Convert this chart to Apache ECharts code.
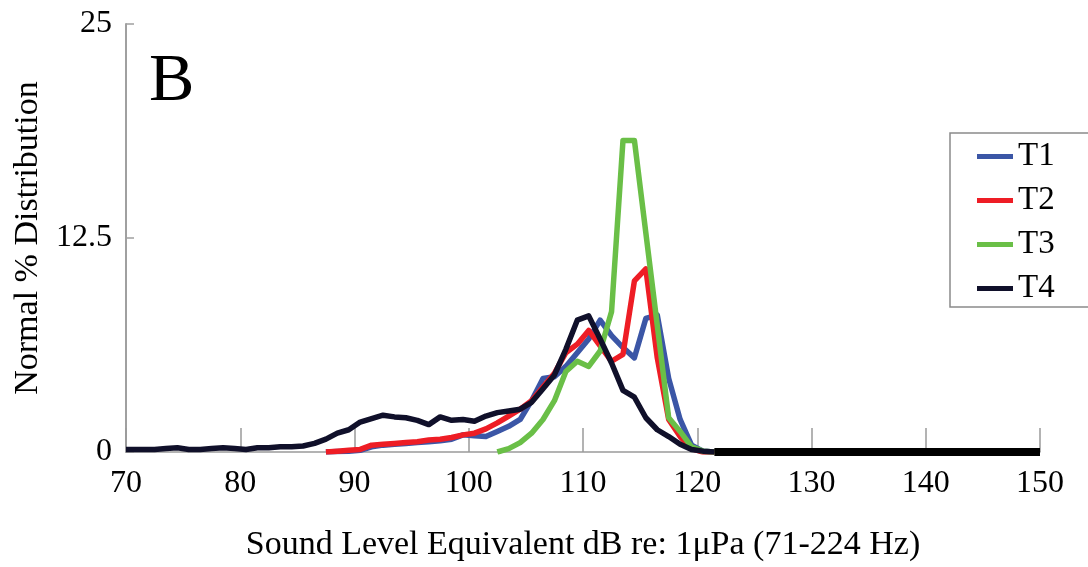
<!DOCTYPE html>
<html>
<head>
<meta charset="utf-8">
<script src="https://cdn.jsdelivr.net/npm/echarts@6/dist/echarts.min.js"></script>
<style>
  html, body { margin: 0; padding: 0; background: #fff; }
  #chart { width: 1088px; height: 567px; }
</style>
</head>
<body>
<div id="chart"></div>
<script>
const seriesNames = ['T1', 'T2', 'T3', 'T4']
const Colors = ['#3b56a6', '#ee1d25', '#6abf47', '#10102a']
const SERIF = '"Liberation Serif", "DejaVu Serif", serif'

const xTicks = [70, 80, 90, 100, 110, 120, 130, 140, 150]
const yTicks = [0, 12.5, 25]

// T1 / T2 share x positions (dB bin centres)
const dbT12 = [87.5, 88.5, 89.5, 90.5, 91.5, 92.5, 93.5, 94.5, 95.5, 96.5, 97.5, 98.5, 99.5,
  100.5, 101.5, 102.5, 103.5, 104.5, 105.5, 106.5, 107.5, 108.5, 109.5, 110.5, 111.5,
  112.5, 113.5, 114.5, 115.5, 116.5, 117.5, 118.5, 119.5, 120.5, 121.5]
const valT1 = [0, 0.03, 0.05, 0.1, 0.3, 0.4, 0.45, 0.5, 0.55, 0.6, 0.65, 0.75, 1.0,
  0.95, 0.9, 1.2, 1.5, 1.9, 3.0, 4.3, 4.4, 5.0, 5.8, 6.6, 7.7,
  6.8, 6.1, 5.5, 7.8, 8.0, 4.3, 1.9, 0.4, 0.05, 0]
const valT2 = [0, 0.05, 0.1, 0.15, 0.4, 0.45, 0.5, 0.55, 0.6, 0.7, 0.75, 0.85, 1.0,
  1.1, 1.35, 1.7, 2.1, 2.5, 3.0, 3.8, 4.6, 5.8, 6.3, 7.1, 6.2,
  5.3, 5.7, 10.0, 10.7, 5.5, 1.9, 0.9, 0.2, 0, 0]

const dbT3 = [102.5, 103.5, 104.5, 105.5, 106.5, 107.5, 108.5, 109.5, 110.5, 111.5,
  112.5, 113.5, 114.5, 115.5, 116.5, 117.5, 118.5, 119.5, 120.5, 121.5]
const valT3 = [0, 0.2, 0.55, 1.1, 1.9, 3.0, 4.7, 5.3, 5.0, 5.9,
  8.2, 18.2, 18.2, 12.8, 7.4, 2.0, 1.2, 0.3, 0.05, 0]

const dbT4 = [70, 71.5, 72.5, 73.5, 74.5, 75.5, 76.5, 77.5, 78.5, 79.5, 80.5, 81.5, 82.5,
  83.5, 84.5, 85.5, 86.5, 87.5, 88.5, 89.5, 90.5, 91.5, 92.5, 93.5, 94.5, 95.5, 96.5,
  97.5, 98.5, 99.5, 100.5, 101.5, 102.5, 103.5, 104.5, 105.5, 106.5, 107.5, 108.5,
  109.5, 110.5, 111.5, 112.5, 113.5, 114.5, 115.5, 116.5, 117.5, 118.5, 119.5, 120.5, 121.5]
const valT4 = [0.15, 0.15, 0.15, 0.2, 0.25, 0.15, 0.15, 0.2, 0.25, 0.2, 0.15, 0.25, 0.25,
  0.3, 0.3, 0.35, 0.5, 0.75, 1.1, 1.3, 1.75, 1.95, 2.15, 2.05, 2.0, 1.85, 1.6,
  2.05, 1.85, 1.9, 1.8, 2.1, 2.3, 2.4, 2.5, 2.9, 3.7, 4.5, 6.0,
  7.7, 7.95, 6.6, 5.2, 3.6, 3.2, 2.0, 1.3, 0.9, 0.45, 0.15, 0.05, 0]

// flat zero stretch above 121.5 dB, drawn heavier in the original
const dbTail = [121.5, 150]
const valTail = [0, 0]

function pairs(xs, ys) {
  return xs.map((x, i) => [x, ys[i]])
}

const chart = echarts.init(document.getElementById('chart'), null, { renderer: 'canvas' })

const lineSeries = (name, data, color, width) => ({
  name: name,
  type: 'line',
  data: data,
  showSymbol: false,
  symbol: 'none',
  smooth: false,
  lineStyle: { color: color, width: width, join: 'round', cap: 'butt' },
  itemStyle: { color: color },
  emphasis: { disabled: true },
  animation: false
})

chart.setOption({
  animation: false,
  grid: { left: 126, right: 48, top: 24, bottom: 112, containLabel: false },
  graphic: [{
    type: 'text',
    left: 149,
    top: 48,
    style: { text: 'B', fontFamily: SERIF, fontSize: 68, fill: '#000' }
  }],
  legend: {
    data: seriesNames,
    orient: 'vertical',
    left: 950,
    top: 133,
    padding: [7, 40, 2, 27],
    itemGap: 11,
    itemWidth: 36,
    itemHeight: 5,
    icon: 'rect',
    backgroundColor: '#fff',
    borderColor: '#8a8a8a',
    borderWidth: 1.5,
    borderRadius: 0,
    textStyle: { fontFamily: SERIF, fontSize: 33, color: '#000', padding: [0, 0, 0, 0] }
  },
  xAxis: {
    type: 'value',
    min: xTicks[0],
    max: xTicks[xTicks.length - 1],
    interval: 10,
    name: 'Sound Level Equivalent dB re: 1\u03bcPa (71-224 Hz)',
    nameLocation: 'middle',
    nameGap: 76,
    nameTextStyle: { fontFamily: SERIF, fontSize: 34, color: '#000' },
    axisLine: { show: true, lineStyle: { color: '#9a9a9a', width: 1.5 } },
    axisTick: { show: true, inside: true, length: 24, lineStyle: { color: '#9a9a9a', width: 1.5 } },
    axisLabel: { fontFamily: SERIF, fontSize: 32, color: '#000', margin: 16 },
    splitLine: { show: false }
  },
  yAxis: {
    type: 'value',
    min: yTicks[0],
    max: yTicks[yTicks.length - 1],
    interval: 12.5,
    name: 'Normal % Distribution',
    nameLocation: 'middle',
    nameGap: 80,
    nameTextStyle: { fontFamily: SERIF, fontSize: 34, color: '#000' },
    axisLine: { show: true, lineStyle: { color: '#a0a0a0', width: 2 } },
    axisTick: { show: true, inside: true, length: 8, lineStyle: { color: '#a0a0a0', width: 1.5 } },
    axisLabel: { fontFamily: SERIF, fontSize: 32, color: '#000', margin: 14 },
    splitLine: { show: false }
  },
  series: [
    lineSeries('T1', pairs(dbT12, valT1), Colors[0], 5.5),
    lineSeries('T2', pairs(dbT12, valT2), Colors[1], 5.5),
    lineSeries('T3', pairs(dbT3, valT3), Colors[2], 5.5),
    lineSeries('T4', pairs(dbT4, valT4), Colors[3], 5.5),
    lineSeries('T4', pairs(dbTail, valTail), '#000', 8)
  ]
})
</script>
</body>
</html>
